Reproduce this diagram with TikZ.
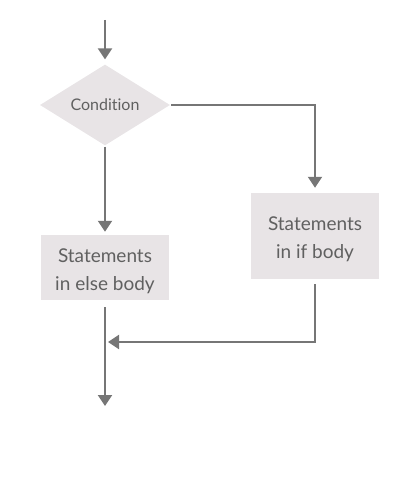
\documentclass[tikz,border=0pt]{standalone}
\usepackage{fontspec}
\setmainfont{Lato}[Ligatures=NoCommon]
\usetikzlibrary{shapes.geometric,arrows.meta}
\definecolor{boxfill}{HTML}{E8E4E6}
\definecolor{linegray}{HTML}{767676}
\definecolor{textgray}{HTML}{606060}
\newcommand{\lowtext}[1]{\raisebox{-3pt}[\height][\depth]{\begin{tabular}{@{}c@{}}#1\end{tabular}}}
\begin{document}
\begin{tikzpicture}[x=1pt,y=-1pt,
  flow/.style={draw=linegray,line width=2pt,-{Triangle[width=14pt,length=11pt]}},
  stmt/.style={fill=boxfill,text=textgray,minimum width=128pt,align=center,font=\fontsize{19}{28}\selectfont,inner sep=0pt},
  cond/.style={diamond,fill=boxfill,text=textgray,minimum width=130pt,minimum height=76pt,inner sep=0pt,font=\fontsize{16}{19}\selectfont}]
\useasboundingbox (0,0) rectangle (400,489);
\coordinate (start) at (105,20);
\node[cond] (c) at (105,105) {Condition};
\node[stmt,minimum height=65pt] (e) at (105,267.5) {\lowtext{Statements\\in else body}};
\node[stmt,minimum height=86pt] (i) at (315,236) {\lowtext{Statements\\in if body}};
\coordinate (endp) at (105,406);
\coordinate (join) at (108,342);
\draw[flow] (start) -- ([yshift=5pt]c.north);
\draw[flow] ([xshift=1pt]c.east) -| ([yshift=5pt]i.north);
\draw[flow] ([yshift=-1pt]c.south) -- ([yshift=3pt]e.north);
\draw[flow] ([yshift=-7pt]e.south) -- (endp);
\draw[flow] ([yshift=-5pt]i.south) |- (join);
\end{tikzpicture}
\end{document}
